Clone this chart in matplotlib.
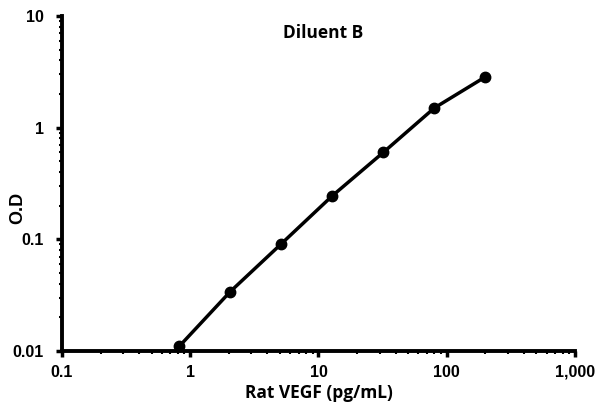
import matplotlib
matplotlib.use('Agg')
import matplotlib.pyplot as plt
from matplotlib.ticker import LogLocator, FixedLocator, FixedFormatter, NullFormatter

conc = [0.82, 2.05, 5.12, 12.8, 32, 80, 200]
od = [0.011, 0.034, 0.091, 0.245, 0.6, 1.5, 2.85]
xticks = [0.1, 1, 10, 100, 1000]
xticklabels = ["0.1", "1", "10", "100", "1,000"]
yticks = [0.01, 0.1, 1, 10]
yticklabels = ["0.01", "0.1", "1", "10"]

plt.rcParams["font.family"] = "Liberation Sans"
plt.rcParams["font.weight"] = "bold"

fig = plt.figure(figsize=(5.98, 4.09), dpi=100)
ax = fig.add_axes([0.1037, 0.1418, 0.8578, 0.8191])

ax.plot(conc, od, color="black", lw=2.5, marker="o", ms=7.5, clip_on=False, zorder=3)
ax.set_xscale("log")
ax.set_yscale("log")
ax.set_xlim(0.1, 1000)
ax.set_ylim(0.01, 10)

ax.xaxis.set_major_locator(FixedLocator(xticks))
ax.xaxis.set_major_formatter(FixedFormatter(xticklabels))
ax.yaxis.set_major_locator(FixedLocator(yticks))
ax.yaxis.set_major_formatter(FixedFormatter(yticklabels))
ax.xaxis.set_minor_locator(LogLocator(base=10, subs=range(2, 10)))
ax.yaxis.set_minor_locator(LogLocator(base=10, subs=range(2, 10)))
ax.xaxis.set_minor_formatter(NullFormatter())
ax.yaxis.set_minor_formatter(NullFormatter())

for s in ["top", "right"]:
    ax.spines[s].set_visible(False)
for s in ["left", "bottom"]:
    ax.spines[s].set_linewidth(2.8)

ax.tick_params(which="major", direction="out", length=4, width=2.5, labelsize=11.5)
ax.tick_params(axis="x", which="major", pad=6)
ax.tick_params(axis="y", which="major", pad=9)
ax.tick_params(which="minor", direction="out", length=2.5, width=1.5)

ax.set_ylabel("O.D", fontsize=13, fontweight="bold")
ax.yaxis.set_label_coords(-0.07, 0.427)
ax.set_xlabel("Rat VEGF (pg/mL)", fontfamily="Open Sans", fontweight="bold", fontsize=12.5)
ax.xaxis.set_label_coords(0.5, -0.098)
ax.set_title("Diluent B", fontfamily="Open Sans", fontweight="bold", fontsize=12.5, x=0.51, y=0.91)

fig.savefig("out.png", dpi=100)
